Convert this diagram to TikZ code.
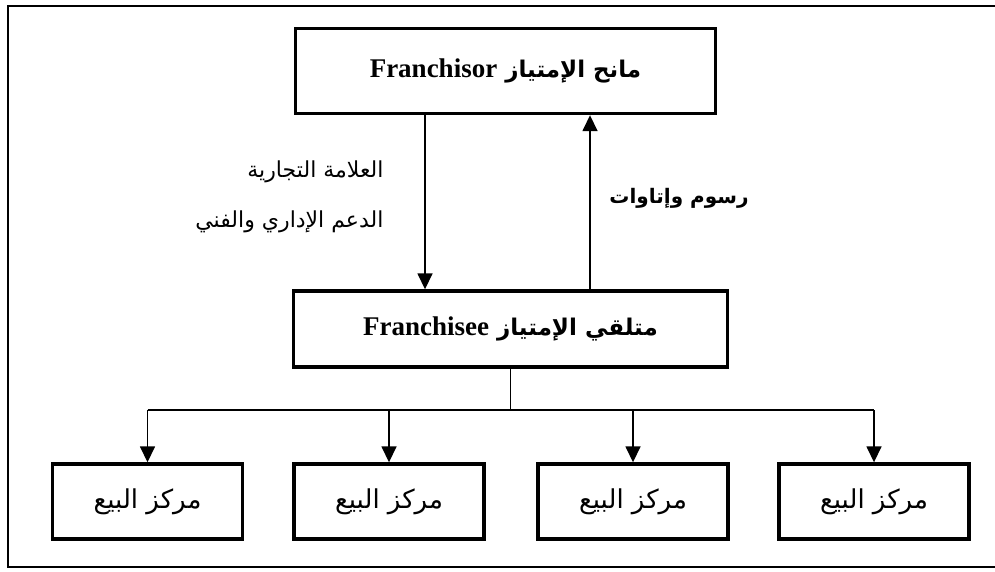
\documentclass[tikz,border=0pt]{standalone}
\usepackage{fontspec}
\setmainfont{Liberation Serif}
\newfontfamily\arabicfont[Script=Arabic]{DejaVu Sans}
\TeXXeTstate=1
\usetikzlibrary{arrows.meta}

\newcommand{\latinpart}[1]{{\rmfamily\bfseries\fontsize{27}{30}\selectfont #1}}

\tikzset{
  frameline/.style={line width=2.5pt},
  mainbox/.style={draw, line width=3.4pt, minimum width=#1, inner sep=0pt},
  mainbox/.default=420pt,
  outletbox/.style={draw, line width=3.4pt, minimum width=190pt, minimum height=75pt, inner sep=0pt,
    font=\fontsize{26}{30}\selectfont\arabicfont},
  flow/.style={line width=1.6pt, -{Triangle[width=15pt,length=16pt]}},
  bus/.style={line width=1.6pt},
  headtext/.style={font=\fontsize{23}{28}\selectfont\arabicfont\bfseries},
  sidetext/.style={font=\fontsize{22}{26}\selectfont\arabicfont},
}

\begin{document}
\begin{tikzpicture}[x=1pt,y=-1pt]
  \useasboundingbox (0,0) rectangle (995,572);
  \fill[white] (0,0) rectangle (995,572);

  % outer frame (its right side falls off the page)
  \draw[frameline] (1000,6) -- (8,6) -- (8,567) -- (1000,567);

  % franchisor and franchisee
  \node[mainbox=420pt, minimum height=85pt, headtext] (franchisor) at (505.5,71)
    {\beginR مانح الإمتياز \beginL\latinpart{Franchisor}\endL\endR};
  \node[mainbox=434pt, minimum height=76pt, headtext] (franchisee) at (510.5,329)
    {\beginR متلقي الإمتياز \beginL\latinpart{Franchisee}\endL\endR};

  % sales outlets
  \node[outletbox] (outletA) at (147.5,501.5) {\beginR مركز البيع\endR};
  \node[outletbox] (outletB) at (389,501.5) {\beginR مركز البيع\endR};
  \node[outletbox] (outletC) at (633,501.5) {\beginR مركز البيع\endR};
  \node[outletbox] (outletD) at (874,501.5) {\beginR مركز البيع\endR};

  % flows between franchisor and franchisee
  \coordinate (downx) at (425,0);
  \coordinate (upx) at (590,0);
  \draw[flow] (downx |- franchisor.south) -- (downx |- franchisee.north);
  \draw[flow] (upx |- franchisee.north) -- (upx |- franchisor.south);

  \node[sidetext, anchor=east] (trademark) at (387,172) {\beginR العلامة التجارية\endR};
  \node[sidetext, anchor=east] (support) at (387,222) {\beginR الدعم الإداري والفني\endR};
  \node[headtext, font=\fontsize{20}{24}\selectfont\arabicfont\bfseries] (fees) at (679,198)
    {\beginR رسوم وإتاوات\endR};

  % distribution bus
  \coordinate (busy) at (0,410);
  \draw[bus] (franchisee.south) -- (franchisee.south |- busy);
  \draw[bus] (outletA.north |- busy) -- (outletD.north |- busy);
  \foreach \o in {outletA,outletB,outletC,outletD}
    \draw[flow] (\o.north |- busy) -- (\o.north);
\end{tikzpicture}
\end{document}
